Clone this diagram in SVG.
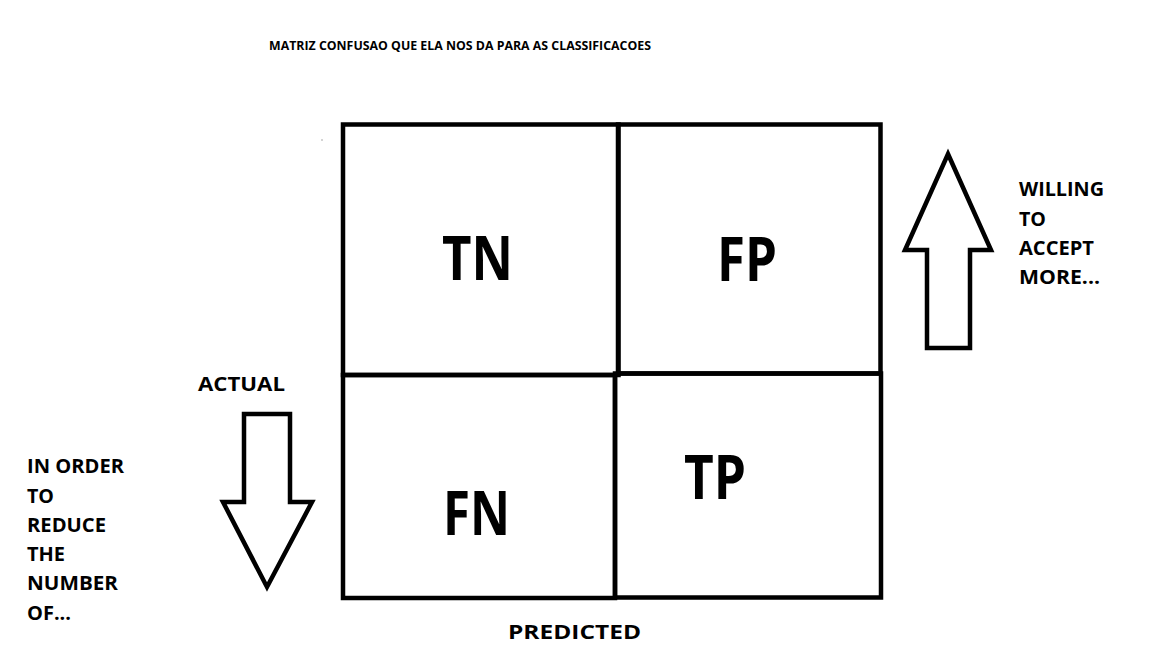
<svg xmlns="http://www.w3.org/2000/svg" width="1152" height="648" viewBox="0 0 1152 648">
<style>
text{font-family:"Open Sans","Noto Sans","Liberation Sans",sans-serif;font-weight:bold;fill:#000}
.cell{fill:none;stroke:#000;stroke-width:4.5}
.arrow{fill:#fff;stroke:#000;stroke-width:4.5;stroke-linejoin:miter}
.big{font-size:60px}
.lbl{font-size:19px}
.title{font-size:13px}
</style>
<rect width="1152" height="648" fill="#fff"/>
<text class="title" x="269" y="50" textLength="382" lengthAdjust="spacingAndGlyphs">MATRIZ CONFUSAO QUE ELA NOS DA PARA AS CLASSIFICACOES</text>
<rect x="321.5" y="139.5" width="1" height="1" fill="#555"/>
<g id="tn">
<rect class="cell" x="343" y="124.5" width="275.5" height="250.5"/>
<text class="big" x="442" y="280" textLength="71" lengthAdjust="spacingAndGlyphs">TN</text>
</g>
<g id="fp">
<rect class="cell" x="618" y="124.5" width="262.5" height="249"/>
<text class="big" x="717" y="281" textLength="60" lengthAdjust="spacingAndGlyphs">FP</text>
</g>
<g id="fn">
<rect class="cell" x="343" y="375" width="272" height="223"/>
<text class="big" x="443" y="535" textLength="67" lengthAdjust="spacingAndGlyphs">FN</text>
</g>
<g id="tp">
<rect class="cell" x="615" y="373.5" width="266" height="224"/>
<text class="big" x="684" y="499" textLength="62" lengthAdjust="spacingAndGlyphs">TP</text>
</g>
<g id="connectors">
<polygon class="arrow" points="948,154 991,250 970,250 970,348 927,348 927,250 905,250"/>
<polygon class="arrow" points="244,414 290,414 290,502 312,502 267,587 223,502 244,502"/>
</g>
<g id="right-label">
<text class="lbl" x="1019" y="196" textLength="85" lengthAdjust="spacingAndGlyphs">WILLING</text>
<text class="lbl" x="1019" y="226" textLength="27" lengthAdjust="spacingAndGlyphs">TO</text>
<text class="lbl" x="1019" y="255" textLength="75" lengthAdjust="spacingAndGlyphs">ACCEPT</text>
<text class="lbl" x="1019" y="284" textLength="81" lengthAdjust="spacingAndGlyphs">MORE...</text>
</g>
<g id="actual-label">
<text class="lbl" x="198" y="391" textLength="87" lengthAdjust="spacingAndGlyphs">ACTUAL</text>
</g>
<g id="left-label">
<text class="lbl" x="27" y="473" textLength="97" lengthAdjust="spacingAndGlyphs">IN ORDER</text>
<text class="lbl" x="27" y="503" textLength="27" lengthAdjust="spacingAndGlyphs">TO</text>
<text class="lbl" x="27" y="532" textLength="79" lengthAdjust="spacingAndGlyphs">REDUCE</text>
<text class="lbl" x="27" y="561" textLength="38" lengthAdjust="spacingAndGlyphs">THE</text>
<text class="lbl" x="27" y="590" textLength="91" lengthAdjust="spacingAndGlyphs">NUMBER</text>
<text class="lbl" x="27" y="620" textLength="44" lengthAdjust="spacingAndGlyphs">OF...</text>
</g>
<g id="predicted-label">
<text class="lbl" x="508" y="639" textLength="133" lengthAdjust="spacingAndGlyphs">PREDICTED</text>
</g>
</svg>
